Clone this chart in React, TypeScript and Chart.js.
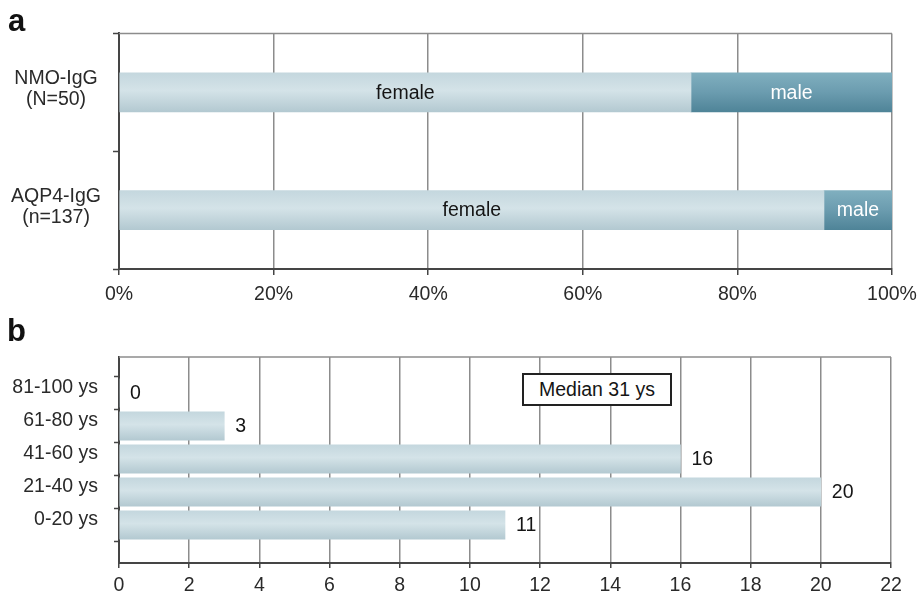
import React, { useEffect, useRef } from 'react';
import { Chart, registerables } from 'chart.js';

Chart.register(...registerables);

// ---------- data ----------
const groupLabels = [['NMO-IgG', '(N=50)'], ['AQP4-IgG', '(n=137)']];
const seriesNames = ['female', 'male'];
const femalePct = [74, 91.2];
const malePct = [26, 8.8];
const pctTicks = [0, 20, 40, 60, 80, 100];

const ageGroups = ['81-100 ys', '61-80 ys', '41-60 ys', '21-40 ys', '0-20 ys'];
const ageCounts = [0, 3, 16, 20, 11];
const countTicks = [0, 2, 4, 6, 8, 10, 12, 14, 16, 18, 20, 22];
const medianText = 'Median 31 ys';

// ---------- styles ----------
const FONT = '"Liberation Sans", Arial, Helvetica, sans-serif';
const FS = 19.5;
const GRID = '#8c8c8c';
const AXIS = '#454545';
const TEXT = '#2a2a2a';
const femaleStops: [number, string][] = [[0, '#c4d7de'], [0.45, '#d4e3e8'], [1, '#b3c9d1']];
const maleStops: [number, string][] = [[0, '#80afbf'], [0.5, '#6b9caf'], [1, '#4f8498']];
const Y_MIN_B = -1.09;
const Y_MAX_B = ageGroups.length - 1 + 1.15;

function gradientFill(stops: [number, string][], half: number) {
  return (ctx: any) => {
    const chart = ctx.chart;
    if (!chart.chartArea || ctx.type !== 'data') return stops[1][1];
    const yScale = chart.scales.y;
    const yc = yScale.getPixelForValue(ctx.dataIndex);
    const g = chart.ctx.createLinearGradient(0, yc - half, 0, yc + half);
    stops.forEach(([o, c]) => g.addColorStop(o, c));
    return g;
  };
}

const topBorder = {
  id: 'topBorder',
  beforeDatasetsDraw(chart: any) {
    const { ctx, chartArea } = chart;
    ctx.save();
    ctx.strokeStyle = GRID;
    ctx.lineWidth = 1.5;
    ctx.beginPath();
    ctx.moveTo(chartArea.left, chartArea.top);
    ctx.lineTo(chartArea.right, chartArea.top);
    ctx.stroke();
    ctx.restore();
  },
};

const insideLabels = {
  id: 'insideLabels',
  afterDatasetsDraw(chart: any) {
    const { ctx } = chart;
    ctx.save();
    ctx.font = `${FS}px ${FONT}`;
    ctx.textAlign = 'center';
    ctx.textBaseline = 'middle';
    chart.data.datasets.forEach((ds: any, di: number) => {
      const meta = chart.getDatasetMeta(di);
      ctx.fillStyle = di === 0 ? '#151515' : '#ffffff';
      meta.data.forEach((el: any) => {
        const { x, base, y } = el.getProps(['x', 'base', 'y'], true);
        ctx.fillText(ds.label, (x + base) / 2, y + 1);
      });
    });
    ctx.restore();
  },
};

const valueLabels = {
  id: 'valueLabels',
  afterDatasetsDraw(chart: any) {
    const { ctx } = chart;
    ctx.save();
    ctx.font = `${FS}px ${FONT}`;
    ctx.textAlign = 'left';
    ctx.textBaseline = 'middle';
    ctx.fillStyle = '#151515';
    const meta = chart.getDatasetMeta(0);
    meta.data.forEach((el: any, i: number) => {
      const { x, y } = el.getProps(['x', 'y'], true);
      ctx.fillText(String(ageCounts[i]), x + 11, y + 1);
    });
    ctx.restore();
  },
};

export default function App() {
  const refA = useRef<HTMLCanvasElement>(null);
  const refB = useRef<HTMLCanvasElement>(null);

  useEffect(() => {
    const font = { family: FONT, size: FS };

    const chartA = new Chart(refA.current!, {
      type: 'bar',
      data: {
        labels: groupLabels as any,
        datasets: [
          {
            label: seriesNames[0],
            data: femalePct,
            backgroundColor: gradientFill(femaleStops, 19.5) as any,
            borderWidth: 0,
            barThickness: 39,
          },
          {
            label: seriesNames[1],
            data: malePct,
            backgroundColor: gradientFill(maleStops, 19.5) as any,
            borderWidth: 0,
            barThickness: 39,
          },
        ],
      },
      options: {
        indexAxis: 'y',
        animation: false,
        responsive: false,
        layout: { padding: { top: 33, right: 27, left: 0, bottom: 0 } },
        plugins: { legend: { display: false }, tooltip: { enabled: false } },
        scales: {
          x: {
            stacked: true,
            min: pctTicks[0],
            max: pctTicks[pctTicks.length - 1],
            ticks: {
              stepSize: pctTicks[1] - pctTicks[0],
              callback: (v: any) => `${v}%`,
              color: TEXT,
              font,
              padding: 8,
              maxRotation: 0,
            },
            grid: { color: GRID, lineWidth: 1.5, tickLength: 6, tickColor: AXIS, tickWidth: 1.5 },
            border: { color: AXIS, width: 2 },
            afterFit: (s: any) => {
              s.height = 41;
              s.paddingLeft = 0;
              s.paddingRight = 0;
            },
          },
          y: {
            stacked: true,
            ticks: {
              color: TEXT,
              font: { ...font, lineHeight: 1.1 },
              crossAlign: 'center',
              padding: 12,
              labelOffset: -3,
            },
            grid: { drawOnChartArea: false, tickLength: 6, color: AXIS, tickColor: AXIS, tickWidth: 1.5, offset: true },
            border: { color: AXIS, width: 2 },
            afterFit: (s: any) => {
              s.width = 119;
            },
          },
        },
      },
      plugins: [topBorder, insideLabels],
    } as any);

    const yTicks: { value: number }[] = [];
    for (let i = 0; i <= ageGroups.length; i++) {
      yTicks.push({ value: i - 0.5 });
      if (i < ageGroups.length) yTicks.push({ value: i });
    }

    const chartB = new Chart(refB.current!, {
      type: 'bar',
      data: {
        datasets: [
          {
            label: 'patients',
            data: ageCounts.map((v, i) => ({ x: v, y: i })),
            backgroundColor: gradientFill(femaleStops, 14.2) as any,
            borderWidth: 0,
            barThickness: 28.4,
          },
        ],
      },
      options: {
        indexAxis: 'y',
        animation: false,
        responsive: false,
        layout: { padding: { top: 47, right: 28, left: 0, bottom: 0 } },
        plugins: { legend: { display: false }, tooltip: { enabled: false } },
        scales: {
          x: {
            type: 'linear',
            min: countTicks[0],
            max: countTicks[countTicks.length - 1],
            ticks: {
              stepSize: countTicks[1] - countTicks[0],
              color: TEXT,
              font,
              padding: 5.5,
              maxRotation: 0,
            },
            grid: { color: GRID, lineWidth: 1.5, tickLength: 5, tickColor: AXIS, tickWidth: 1.5 },
            border: { color: AXIS, width: 2 },
            afterFit: (s: any) => {
              s.height = 32;
              s.paddingLeft = 0;
              s.paddingRight = 0;
            },
          },
          y: {
            type: 'linear',
            reverse: true,
            offset: false,
            bounds: 'data',
            min: Y_MIN_B,
            max: Y_MAX_B,
            afterBuildTicks: (s: any) => {
              s.ticks = yTicks.map((t) => ({ ...t }));
              s.min = Y_MIN_B;
              s.max = Y_MAX_B;
            },
            ticks: {
              autoSkip: false,
              color: TEXT,
              font,
              padding: 16,
              labelOffset: -5,
              callback: (v: any) => (Number.isInteger(v) ? ageGroups[v] : ''),
            },
            grid: {
              offset: false,
              drawOnChartArea: false,
              tickLength: 5,
              tickWidth: 1.5,
              tickColor: (c: any) => (c.tick && Number.isInteger(c.tick.value) ? 'rgba(0,0,0,0)' : AXIS),
            },
            border: { color: AXIS, width: 2 },
            afterFit: (s: any) => {
              s.width = 119;
            },
          },
        },
      },
      plugins: [topBorder, valueLabels],
    } as any);

    return () => {
      chartA.destroy();
      chartB.destroy();
    };
  }, []);

  const panelLetter: React.CSSProperties = {
    position: 'absolute',
    fontFamily: FONT,
    fontWeight: 'bold',
    fontSize: 31,
    lineHeight: 1,
    color: '#111',
  };

  return (
    <div style={{ position: 'absolute', left: 0, top: 0, width: 919, height: 595, background: '#fff', overflow: 'hidden' }}>
      <canvas ref={refA} width={919} height={310} style={{ position: 'absolute', left: 0, top: 0, display: 'block' }} />
      <canvas ref={refB} width={919} height={285} style={{ position: 'absolute', left: 0, top: 310, display: 'block' }} />
      <div style={{ ...panelLetter, left: 8, top: 5 }}>a</div>
      <div style={{ ...panelLetter, left: 7, top: 315 }}>b</div>
      <div
        style={{
          position: 'absolute',
          left: 522,
          top: 373,
          width: 150,
          height: 33,
          boxSizing: 'border-box',
          border: '2px solid #222',
          background: '#fff',
          display: 'flex',
          alignItems: 'center',
          justifyContent: 'center',
          fontFamily: FONT,
          fontSize: FS,
          color: '#151515',
        }}
      >
        {medianText}
      </div>
    </div>
  );
}
